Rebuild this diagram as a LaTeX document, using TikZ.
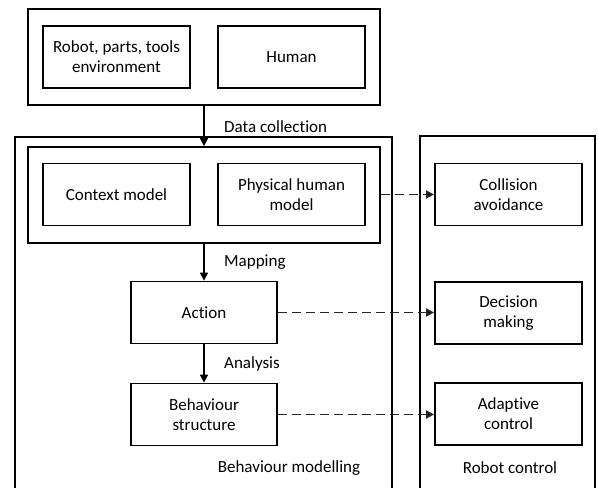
\documentclass[tikz,border=0pt]{standalone}
\usepackage{fontspec}
\setmainfont[Ligatures=CommonOff]{Carlito}
\usetikzlibrary{arrows.meta}
\tikzset{
  box/.style={draw=black, line width=1.8pt, align=center, inner sep=2pt,
    minimum width=147pt, minimum height=62pt, font=\fontsize{17}{20}\selectfont},
  group/.style={draw=black, line width=1.8pt, inner sep=0pt},
  label/.style={font=\fontsize{17}{20}\selectfont, inner sep=0pt},
  flow/.style={line width=1.6pt, -{Triangle[length=8pt,width=8pt]}},
  link/.style={line width=1.8pt, draw=black!85, dash pattern=on 9pt off 5pt,
    -{Triangle[length=8pt,width=8pt,fill=black]}}
}
\begin{document}
\begin{tikzpicture}[x=1pt,y=-1pt]
\useasboundingbox (0,0) rectangle (598,488);

% outer containers, open at the bottom edge
\begin{scope}
  \clip (0,0) rectangle (598,488);
  \node[group, minimum width=377pt, minimum height=370pt] (modelling) at (203.5,322) {};
  \node[group, minimum width=175pt, minimum height=370pt] (control) at (507.5,321) {};
\end{scope}

% data sources
\node[group, minimum width=352pt, minimum height=96pt] (sources) at (204,57) {};
\node[box] (robot) at (116.5,57) {Robot, parts, tools\\environment};
\node[box] (human) at (291.5,57) {Human};

% models
\node[group, minimum width=352pt, minimum height=96pt] (models) at (204,195) {};
\node[box] (context) at (116.5,194.5) {Context model};
\node[box] (physical) at (291.5,194.5) {Physical human\\model};

% behaviour chain
\node[box, minimum width=146pt] (action) at (204,312.5) {Action};
\node[box, minimum width=146pt] (structure) at (204,414.5) {Behaviour\\structure};

% robot control blocks
\node[box] (collision) at (508.5,194.5) {Collision\\avoidance};
\node[box] (decision) at (508.5,313) {Decision\\making};
\node[box] (adaptive) at (508.5,414) {Adaptive\\control};

% solid flow
\draw[flow] (sources.south) -- (models.north);
\draw[flow] (models.south) -- (action.north);
\draw[flow] (action.south) -- (structure.north);

% flow labels
\node[label, anchor=west] (lbldata) at (224,127) {Data collection};
\node[label, anchor=west] (lblmap) at (224,262) {Mapping};
\node[label, anchor=west] (lblana) at (224,364) {Analysis};

% dashed links to control
\draw[link] (models.east |- collision.west) -- (collision.west);
\draw[link] (action.east) -- (action.east -| decision.west);
\draw[link] (structure.east) -- (structure.east -| adaptive.west);

% container titles
\node[label] (lblmodelling) at (289,468) {Behaviour modelling};
\node[label] (lblcontrol) at (510,468) {Robot control};
\end{tikzpicture}
\end{document}
